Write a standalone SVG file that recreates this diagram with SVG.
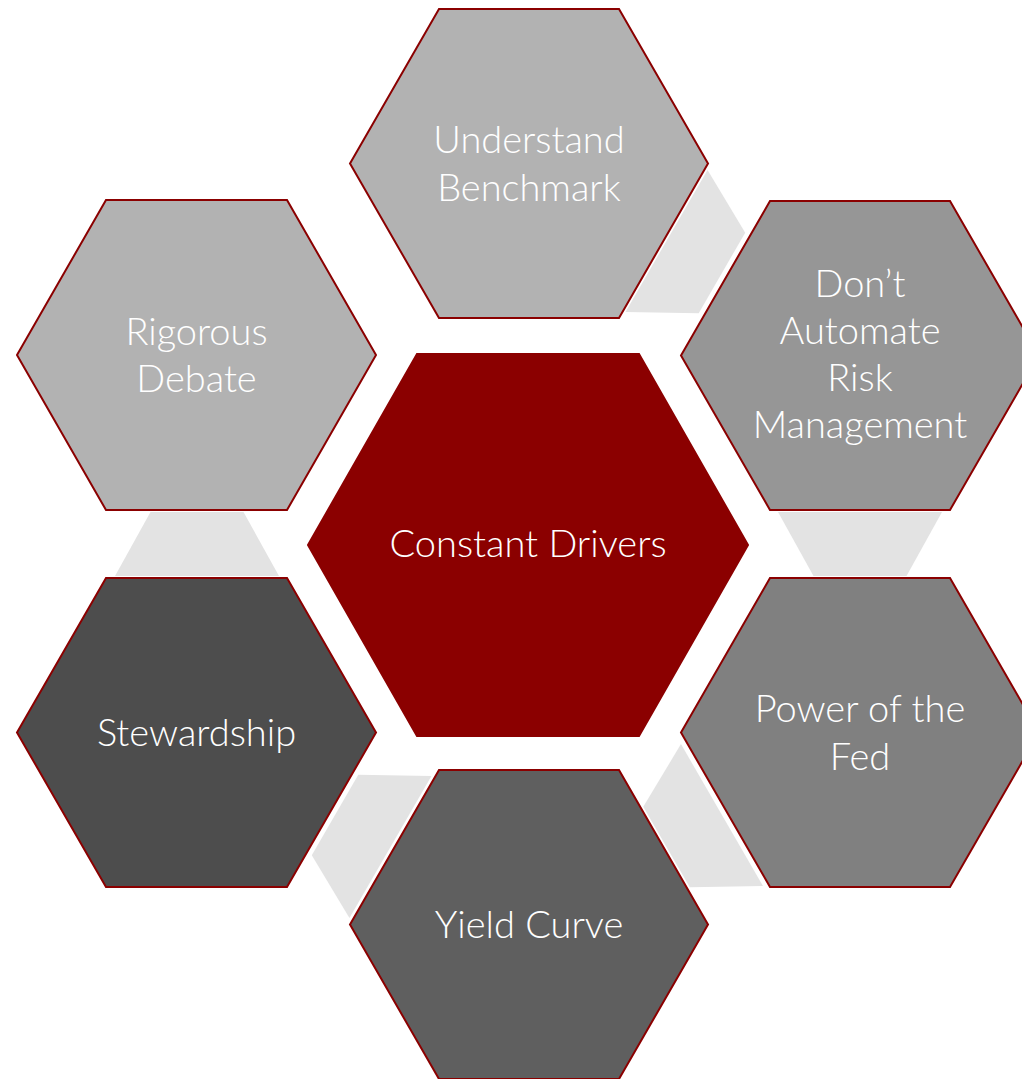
<svg xmlns="http://www.w3.org/2000/svg" width="1022" height="1079" viewBox="0 0 1022 1079">
<style>
.hex{stroke:#8B0000;stroke-width:2;stroke-linejoin:miter}
.conn{fill:#E3E3E3}
.t{font-family:Lato,"Open Sans","Liberation Sans",sans-serif;font-weight:300;font-size:38px;fill:#FFFFFF;text-anchor:middle}
</style>
<defs>
<polygon id="trap" points="778,512 942,512 906.5,576 813.5,576"/>
</defs>
<rect width="1022" height="1079" fill="#FFFFFF"/>
<g id="connectors" class="conn">
<use href="#trap"/>
<use href="#trap" transform="rotate(60 528.5 544)"/>
<use href="#trap" transform="rotate(120 528.5 544)"/>
<use href="#trap" transform="rotate(180 528.5 544)"/>
<use href="#trap" transform="rotate(300 528.5 544)"/>
</g>
<g id="node-center">
<polygon class="hex" fill="#8B0000" points="308,545 417,354 639,354 748,545 639,736 417,736"/>
<text class="t" x="528" y="557">Constant Drivers</text>
</g>
<g id="node-understand">
<polygon class="hex" fill="#B2B2B2" points="350,163.5 439,9 619,9 708,163.5 619,318 439,318"/>
<text class="t" x="529" y="153">Understand</text>
<text class="t" x="529" y="201">Benchmark</text>
</g>
<g id="node-automate">
<polygon class="hex" fill="#969696" points="681,355.5 770,201 950,201 1039,355.5 950,510 770,510"/>
<text class="t" x="860" y="297">Don’t</text>
<text class="t" x="860" y="344">Automate</text>
<text class="t" x="860" y="391">Risk</text>
<text class="t" x="860" y="438">Management</text>
</g>
<g id="node-fed">
<polygon class="hex" fill="#808080" points="681,732.5 770,578 950,578 1039,732.5 950,887 770,887"/>
<text class="t" x="860" y="722">Power of the</text>
<text class="t" x="860" y="770">Fed</text>
</g>
<g id="node-yield">
<polygon class="hex" fill="#5F5F5F" points="350,924.5 439,770 619,770 708,924.5 619,1079 439,1079"/>
<text class="t" x="529" y="938">Yield Curve</text>
</g>
<g id="node-stewardship">
<polygon class="hex" fill="#4D4D4D" points="17,732.5 106,578 287,578 376,732.5 287,887 106,887"/>
<text class="t" x="196.5" y="746">Stewardship</text>
</g>
<g id="node-debate">
<polygon class="hex" fill="#B2B2B2" points="17,355 106,200 287,200 376,355 287,510 106,510"/>
<text class="t" x="196.5" y="345">Rigorous</text>
<text class="t" x="196.5" y="392">Debate</text>
</g>
</svg>
